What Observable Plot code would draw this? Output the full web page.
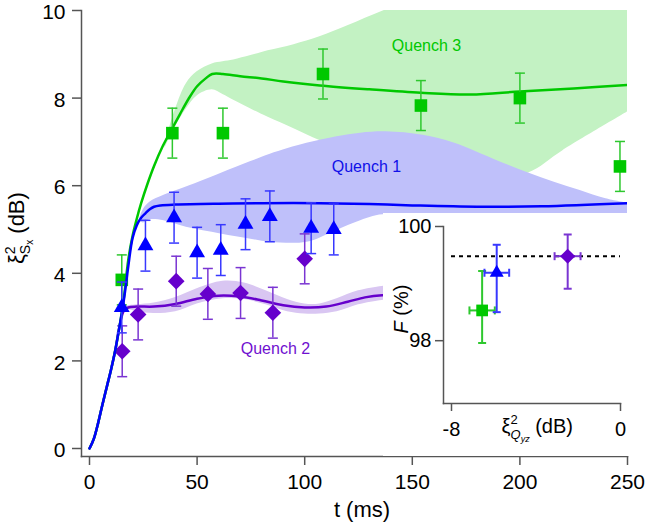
<!DOCTYPE html>
<html><head><meta charset="utf-8">
<script src="https://cdn.jsdelivr.net/npm/d3@7"></script>
<script src="https://cdn.jsdelivr.net/npm/@observablehq/plot@0.6"></script>
<style>
html,body{margin:0;padding:0;background:#fff;}
#wrap{position:relative;width:645px;height:529px;}
#wrap svg{display:block;}
#insetBox{position:absolute;left:383px;top:213px;}
</style></head><body><div id="wrap"></div>
<script>
// ---------------- data ----------------
// Quench 3 (green squares)
const q3T = [15, 38.5, 62, 108.5, 154, 200, 246.5];
const q3V = [3.85, 7.2, 7.2, 8.55, 7.83, 8.0, 6.44];
const q3E = [0.57, 0.57, 0.57, 0.57, 0.57, 0.57, 0.57];
// Quench 1 (blue triangles)
const q1T = [15, 26, 39.3, 50, 61, 72.5, 83.8, 103, 113.5];
const q1V = [3.22, 4.63, 5.27, 4.47, 4.53, 5.12, 5.3, 5.03, 5.0];
const q1E = [0.58, 0.58, 0.58, 0.58, 0.58, 0.58, 0.58, 0.58, 0.58];
// Quench 2 (purple diamonds)
const q2T = [15.2, 22.6, 40.3, 55, 70.2, 85.2, 100];
const q2V = [2.22, 3.06, 3.82, 3.53, 3.55, 3.1, 4.33];
const q2E = [0.58, 0.58, 0.57, 0.58, 0.58, 0.58, 0.57];

// theory lines
const blueLineT = [0, 2, 4, 6, 8, 10, 12, 14, 16, 18, 20, 22, 24, 26, 28, 30, 33, 40, 60, 80, 107, 130, 150, 180, 210, 250];
const blueLineV = [0, 0.22, 0.58, 1.0, 1.4, 1.8, 2.25, 2.8, 3.4, 4.15, 4.8, 5.1, 5.27, 5.37, 5.46, 5.52, 5.55, 5.57, 5.59, 5.6, 5.6, 5.58, 5.55, 5.52, 5.53, 5.6];
const greenLineT = [0, 2, 4, 6, 8, 10, 12, 14, 16, 18, 20, 22, 24, 27, 30, 34, 38, 42, 46, 50, 54, 57, 62, 70, 80, 90, 107, 130, 154, 177, 200, 225, 250];
const greenLineV = [0, 0.22, 0.58, 1.0, 1.4, 1.8, 2.25, 2.8, 3.45, 4.3, 4.85, 5.25, 5.6, 6.05, 6.45, 6.9, 7.27, 7.63, 7.98, 8.27, 8.45, 8.55, 8.55, 8.5, 8.45, 8.38, 8.29, 8.2, 8.12, 8.08, 8.15, 8.22, 8.3];
const purpleLineT = [0, 2, 4, 6, 8, 10, 12, 14, 16, 18, 22, 30, 40, 50, 60, 70, 80, 90, 100, 110, 120, 128, 136, 140];
const purpleLineV = [0, 0.22, 0.58, 1.0, 1.4, 1.8, 2.25, 2.8, 3.15, 3.22, 3.24, 3.24, 3.3, 3.42, 3.49, 3.47, 3.38, 3.27, 3.22, 3.24, 3.35, 3.45, 3.5, 3.5];

// uncertainty bands
const greenBandT  = [35, 40, 45, 50, 57, 62, 67, 75, 83, 95, 107, 120, 137, 160, 185, 204, 220, 250];
const greenBandHi = [6.95, 7.75, 8.33, 8.6, 8.78, 8.83, 8.87, 8.97, 9.08, 9.22, 9.4, 9.65, 10.0, 10.4, 10.7, 10.9, 11, 11];
const greenBandLo = [6.85, 7.35, 7.75, 8.05, 8.19, 8.08, 7.95, 7.75, 7.56, 7.3, 7.03, 6.8, 6.55, 6.3, 6.15, 6.29, 6.8, 7.68];
const blueBandT  = [23, 25, 28, 34.6, 45, 61, 75, 84, 101, 115, 126, 138, 155, 169, 178.6, 192, 204, 216, 228, 240, 250];
const blueBandHi = [5.2, 5.45, 5.62, 5.78, 5.97, 6.28, 6.55, 6.72, 6.97, 7.12, 7.2, 7.23, 7.15, 6.98, 6.8, 6.52, 6.29, 6.08, 5.89, 5.7, 5.6];
const blueBandLo = [5.2, 5.15, 5.22, 5.2, 5.05, 4.9, 4.78, 4.71, 4.71, 4.98, 5.2, 5.34, 5.15, 5.1, 5.1, 5.1, 5.1, 5.1, 5.1, 5.1, 5.1];
const purpleBandT  = [17, 22, 30, 40, 50, 62, 72, 82, 92, 100, 107, 115, 125, 136, 140];
const purpleBandHi = [3.25, 3.28, 3.32, 3.45, 3.65, 3.82, 3.78, 3.6, 3.4, 3.3, 3.3, 3.42, 3.6, 3.7, 3.72];
const purpleBandLo = [3.2, 3.12, 3.08, 3.12, 3.3, 3.42, 3.4, 3.28, 3.12, 3.07, 3.07, 3.12, 3.28, 3.38, 3.4];

// annotation labels
const labelText = ["Quench 3", "Quench 1", "Quench 2"];
const labelT = [156.6, 128.7, 86.4];
const labelV = [9.2, 6.42, 2.28];

// ticks
const xTicks = [0, 50, 100, 150, 200, 250];
const yTicks = [0, 2, 4, 6, 8, 10];

// inset: fidelity vs Q_yz squeezing
const insX   = [-6.55, -5.86, -2.5];
const insXLo = [-7.15, -6.44, -3.12];
const insXHi = [-5.95, -5.27, -1.89];
const insF   = [98.53, 99.19, 99.48];
const insFLo = [97.96, 98.5, 98.91];
const insFHi = [99.22, 99.68, 99.86];
const insRef = [99.48];
const insXTicks = [-8, 0];
const insYTicks = [98, 100];

// ---------------- styles ----------------
const GREEN = "#00c800", GREEN_ERR = "#2ec82e", GREEN_BAND = "#c3f2c3";
const BLUE = "#0000ff", BLUE_ERR = "#3838ff", BLUE_BAND = "#bfc0fa";
const PURPLE = "#6600cc", PURPLE_ERR = "#7a35d2", PURPLE_BAND = "#d9c6f2";
const AXIS = "#555";
const FONT = "'Liberation Sans', Arial, Helvetica, sans-serif";

const pts = (T, V, E) => T.map((t, i) => ({t, v: V[i], lo: V[i] - E[i], hi: V[i] + E[i]}));
const line = (T, V) => T.map((t, i) => ({t, v: V[i]}));
const band = (T, L, H) => T.map((t, i) => ({t, lo: L[i], hi: H[i]}));

const capH = {draw(ctx) { ctx.moveTo(-5, 0); ctx.lineTo(5, 0); }};
const capHs = {draw(ctx) { ctx.moveTo(-4, 0); ctx.lineTo(4, 0); }};
const capVs = {draw(ctx) { ctx.moveTo(0, -4); ctx.lineTo(0, 4); }};

function markers(data, color, err, symbol, r) {
  return [
    Plot.ruleX(data, {x: "t", y1: "lo", y2: "hi", stroke: err, strokeWidth: 1.5}),
    Plot.dot(data, {x: "t", y: "lo", symbol: capH, r: 3, fill: "none", stroke: err, strokeWidth: 1.5}),
    Plot.dot(data, {x: "t", y: "hi", symbol: capH, r: 3, fill: "none", stroke: err, strokeWidth: 1.5}),
    Plot.dot(data, {x: "t", y: "v", symbol, r, fill: color, stroke: "none"})
  ];
}

const q3 = pts(q3T, q3V, q3E), q1 = pts(q1T, q1V, q1E), q2 = pts(q2T, q2V, q2E);
const labels = labelText.map((s, i) => ({s, t: labelT[i], v: labelV[i]}));

const main = Plot.plot({
  width: 645, height: 529,
  marginLeft: 81, marginRight: 18, marginTop: 10, marginBottom: 73,
  x: {domain: [0, 250], insetLeft: 8},
  y: {domain: [0, 10], insetBottom: 8},
  style: {fontFamily: FONT, fontSize: "21px", color: "#000", background: "white", overflow: "visible"},
  marks: [
    Plot.areaY(band(greenBandT, greenBandLo, greenBandHi), {x: "t", y1: "lo", y2: "hi", fill: GREEN_BAND, curve: "catmull-rom", clip: true}),
    Plot.areaY(band(blueBandT, blueBandLo, blueBandHi), {x: "t", y1: "lo", y2: "hi", fill: BLUE_BAND, curve: "catmull-rom", clip: true}),
    Plot.areaY(band(purpleBandT, purpleBandLo, purpleBandHi), {x: "t", y1: "lo", y2: "hi", fill: PURPLE_BAND, curve: "catmull-rom", clip: true}),
    Plot.line(line(purpleLineT, purpleLineV), {x: "t", y: "v", stroke: PURPLE, strokeWidth: 2.5, curve: "catmull-rom", clip: true}),
    ...markers(q2, PURPLE, PURPLE_ERR, "diamond2", 7.5),
    Plot.line(line(greenLineT, greenLineV), {x: "t", y: "v", stroke: GREEN, strokeWidth: 2.5, curve: "catmull-rom", clip: true}),
    ...markers(q3, GREEN, GREEN_ERR, "square", 7.1),
    Plot.line(line(blueLineT, blueLineV), {x: "t", y: "v", stroke: BLUE, strokeWidth: 2.5, curve: "catmull-rom", clip: true}),
    ...markers(q1, BLUE, BLUE_ERR, "triangle", 5.9),
    Plot.text(labels, {x: "t", y: "v", text: "s", fill: (d) => d.s === "Quench 3" ? GREEN : d.s === "Quench 1" ? "#1010e8" : "#7010d0", fontSize: 16, fontFamily: FONT}),
    Plot.frame({anchor: "left", stroke: AXIS, strokeWidth: 1.5}),
    Plot.frame({anchor: "bottom", stroke: AXIS, strokeWidth: 1.5}),
    Plot.axisX({ticks: xTicks, tickSize: 9, tickPadding: 9, stroke: AXIS, strokeWidth: 1.5, fill: "#000", fontSize: 21, label: null}),
    Plot.axisY({ticks: yTicks, tickSize: 9, tickFormat: () => "", stroke: AXIS, strokeWidth: 1.5, label: null}),
    Plot.axisY({ticks: yTicks, tickSize: 0, tickPadding: 16, dy: 2, fill: "#000", fontSize: 21, label: null})
  ]
});

// rich-text axis labels (main)
{
  const svg = d3.select(main);
  svg.append("text").attr("x", 362).attr("y", 517).attr("text-anchor", "middle")
    .attr("font-size", 22).attr("font-family", FONT).attr("fill", "#000").text("t (ms)");
  const yl = svg.append("text").attr("transform", "translate(24,264) rotate(-90)")
    .attr("text-anchor", "start").attr("font-size", 22).attr("font-family", FONT).attr("fill", "#000");
  yl.append("tspan").text("ξ");
  yl.append("tspan").attr("dy", -9).attr("font-size", 14).text("2");
  yl.append("tspan").attr("dx", -7.8).attr("dy", 15).attr("font-size", 14).text("S");
  yl.append("tspan").attr("dy", 3).attr("font-size", 10).text("x");
  yl.append("tspan").attr("dy", -9).attr("font-size", 22).text("\u00a0(dB)");
}

// ---------------- inset ----------------
const ins = insX.map((x, i) => ({x, xlo: insXLo[i], xhi: insXHi[i], f: insF[i], flo: insFLo[i], fhi: insFHi[i]}));
const insColors = [GREEN, BLUE, PURPLE];
const insErr = [GREEN_ERR, BLUE_ERR, PURPLE_ERR];
const insSym = ["square", "triangle", "diamond2"];
const insR = [6.6, 5.2, 6.8];
const insetMarks = [];
ins.forEach((d, i) => {
  const c = insErr[i];
  insetMarks.push(
    Plot.ruleX([d], {x: "x", y1: "flo", y2: "fhi", stroke: c, strokeWidth: 2}),
    Plot.ruleY([d], {y: "f", x1: "xlo", x2: "xhi", stroke: c, strokeWidth: 2}),
    Plot.dot([d], {x: "x", y: "flo", symbol: capHs, r: 3, fill: "none", stroke: c, strokeWidth: 2}),
    Plot.dot([d], {x: "x", y: "fhi", symbol: capHs, r: 3, fill: "none", stroke: c, strokeWidth: 2}),
    Plot.dot([d], {x: "xlo", y: "f", symbol: capVs, r: 3, fill: "none", stroke: c, strokeWidth: 2}),
    Plot.dot([d], {x: "xhi", y: "f", symbol: capVs, r: 3, fill: "none", stroke: c, strokeWidth: 2}),
    Plot.dot([d], {x: "x", y: "f", symbol: insSym[i], r: insR[i], fill: insColors[i], stroke: "none"})
  );
});

const inset = Plot.plot({
  width: 262, height: 243,
  marginLeft: 60, marginRight: 25, marginTop: 13, marginBottom: 53,
  x: {domain: [-8, 0], insetLeft: 8},
  y: {domain: [96.9, 100]},
  style: {fontFamily: FONT, fontSize: "20px", color: "#000", background: "white", overflow: "visible"},
  marks: [
    Plot.ruleY(insRef, {x1: insXTicks[0], x2: insXTicks[1], stroke: "#000", strokeWidth: 2, strokeDasharray: "4,4"}),
    ...insetMarks,
    Plot.frame({anchor: "left", stroke: AXIS, strokeWidth: 1.5}),
    Plot.frame({anchor: "bottom", stroke: AXIS, strokeWidth: 1.5}),
    Plot.axisX({ticks: insXTicks, tickFormat: (d) => String(d), tickSize: 8, tickPadding: 10, stroke: AXIS, strokeWidth: 1.5, fill: "#000", fontSize: 20, label: null}),
    Plot.axisY({ticks: insYTicks, tickFormat: (d) => String(d), tickSize: 8, tickPadding: 4, stroke: AXIS, strokeWidth: 1.5, fill: "#000", fontSize: 20, label: null})
  ]
});
{
  const svg = d3.select(inset);
  const fl = svg.append("text").attr("transform", "translate(25,96) rotate(-90)")
    .attr("text-anchor", "middle").attr("font-size", 20).attr("font-family", FONT).attr("fill", "#000");
  fl.append("tspan").attr("font-style", "italic").text("F");
  fl.append("tspan").text("\u00a0(%)");
  const xl = svg.append("text").attr("x", 118.5).attr("y", 220)
    .attr("text-anchor", "start").attr("font-size", 20).attr("font-family", FONT).attr("fill", "#000");
  xl.append("tspan").text("ξ");
  xl.append("tspan").attr("dy", -9).attr("font-size", 13).text("2");
  xl.append("tspan").attr("dx", -7.2).attr("dy", 15).attr("font-size", 13).attr("font-style", "italic").text("Q");
  xl.append("tspan").attr("dy", 3).attr("font-size", 9).attr("font-style", "italic").text("yz");
  xl.append("tspan").attr("dy", -9).attr("font-size", 20).text("\u00a0(dB)");
}

const wrap = document.getElementById("wrap");
wrap.appendChild(main);
const box = document.createElement("div");
box.id = "insetBox";
box.appendChild(inset);
wrap.appendChild(box);
</script>
</body></html>
